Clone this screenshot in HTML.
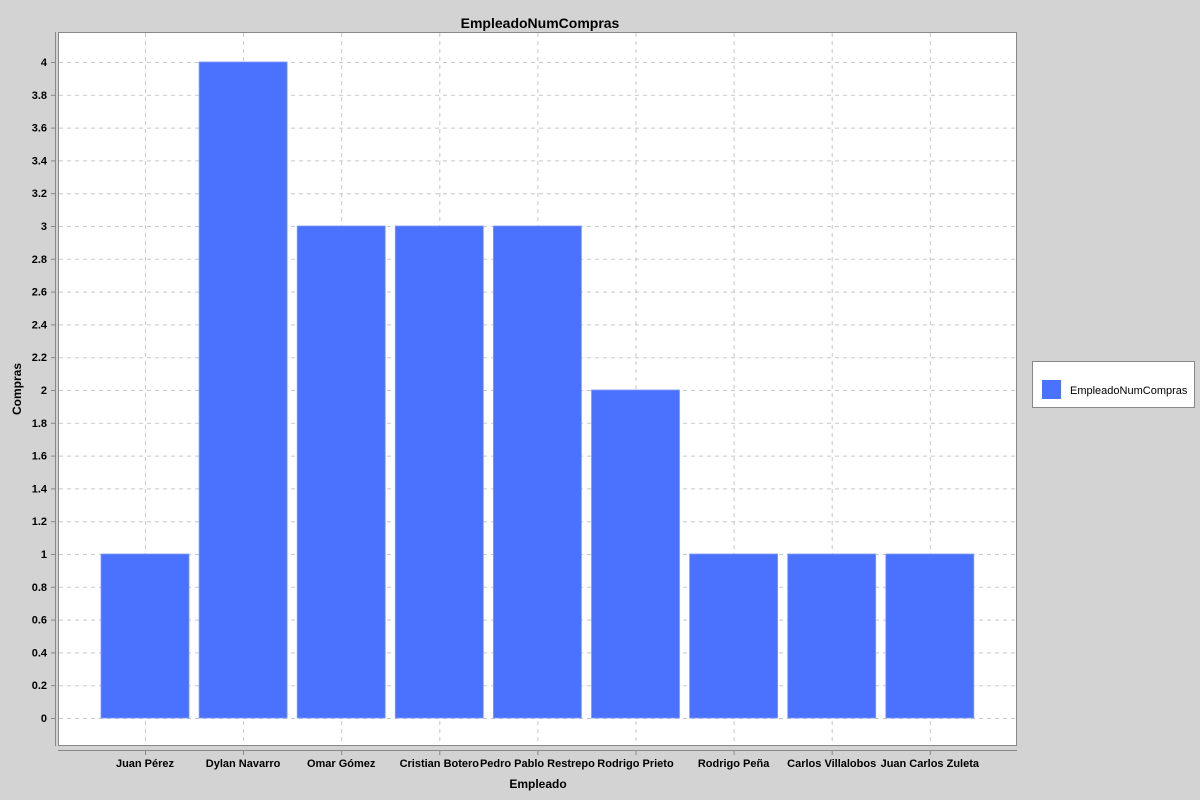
<!DOCTYPE html>
<html><head><meta charset="utf-8"><style>
body{margin:0;background:#d3d3d3;}
svg{display:block;font-family:"Liberation Sans",Arial,sans-serif;}
</style></head><body>
<svg id="c" width="1200" height="800">
<rect width="1200" height="800" fill="#d3d3d3"/>
<text x="540" y="28" text-anchor="middle" font-size="14" font-weight="bold">EmpleadoNumCompras</text>
<rect x="58.5" y="32.5" width="958" height="713" fill="#fff" stroke="#888"/>
<g id="grid"></g><g id="bars"></g><g id="yaxis"></g><g id="xaxis"></g>
<line x1="55.5" y1="32" x2="55.5" y2="746" stroke="#888"/>
<line x1="58" y1="750.5" x2="1017" y2="750.5" stroke="#888"/>
<text transform="translate(21,389) rotate(-90)" text-anchor="middle" font-size="12" font-weight="bold">Compras</text>
<text x="538" y="788" text-anchor="middle" font-size="12" font-weight="bold">Empleado</text>
<g>
<rect x="1032.5" y="361.5" width="162" height="46" fill="#fff" stroke="#888"/>
<rect x="1042" y="380" width="19" height="19" fill="#4a72ff"/>
<text x="1070" y="394" font-size="11">EmpleadoNumCompras</text>
</g>
</svg>
<script>
const categories=["Juan Pérez","Dylan Navarro","Omar Gómez","Cristian Botero","Pedro Pablo Restrepo","Rodrigo Prieto","Rodrigo Peña","Carlos Villalobos","Juan Carlos Zuleta"];
const values=[1,4,3,3,3,2,1,1,1];
const yTicks=[0,0.2,0.4,0.6,0.8,1,1.2,1.4,1.6,1.8,2,2.2,2.4,2.6,2.8,3,3.2,3.4,3.6,3.8,4];
const NS="http://www.w3.org/2000/svg";
function y(v){return 718-v*164;}
function xc(i){return 145+i*98.1;}
function mk(t,a,p){const e=document.createElementNS(NS,t);for(const k in a)e.setAttribute(k,a[k]);document.getElementById(p).appendChild(e);return e;}
yTicks.forEach(v=>{
 const g=mk("line",{x1:59,x2:1016,y1:y(v)+0.5,y2:y(v)+0.5,stroke:"#c8c8c8","stroke-dasharray":"4,4"},"grid");
 
 
 mk("line",{x1:51,x2:55,y1:y(v)+0.5,y2:y(v)+0.5,stroke:"#888"},"yaxis");
 const t=mk("text",{x:47,y:y(v)+4,"text-anchor":"end","font-size":"11","font-weight":"bold"},"yaxis");
 t.textContent=String(v);
 
 
});
categories.forEach((c,i)=>{
 const g=mk("line",{x1:xc(i)+0.5,x2:xc(i)+0.5,y1:33,y2:745,stroke:"#c8c8c8","stroke-dasharray":"4,4"},"grid");
 
 
 const b=mk("rect",{x:xc(i)-44,y:y(values[i]),width:88,height:y(0)-y(values[i]),fill:"#4a72ff",stroke:"#7d99ff","stroke-width":"0.8"},"bars");
 
 
 mk("line",{x1:xc(i)+0.5,x2:xc(i)+0.5,y1:751,y2:755,stroke:"#888"},"xaxis");
 const t=mk("text",{x:xc(i),y:767,"text-anchor":"middle","font-size":"11","font-weight":"bold"},"xaxis");
 t.textContent=c;
 
 
});
</script>
</body></html>
